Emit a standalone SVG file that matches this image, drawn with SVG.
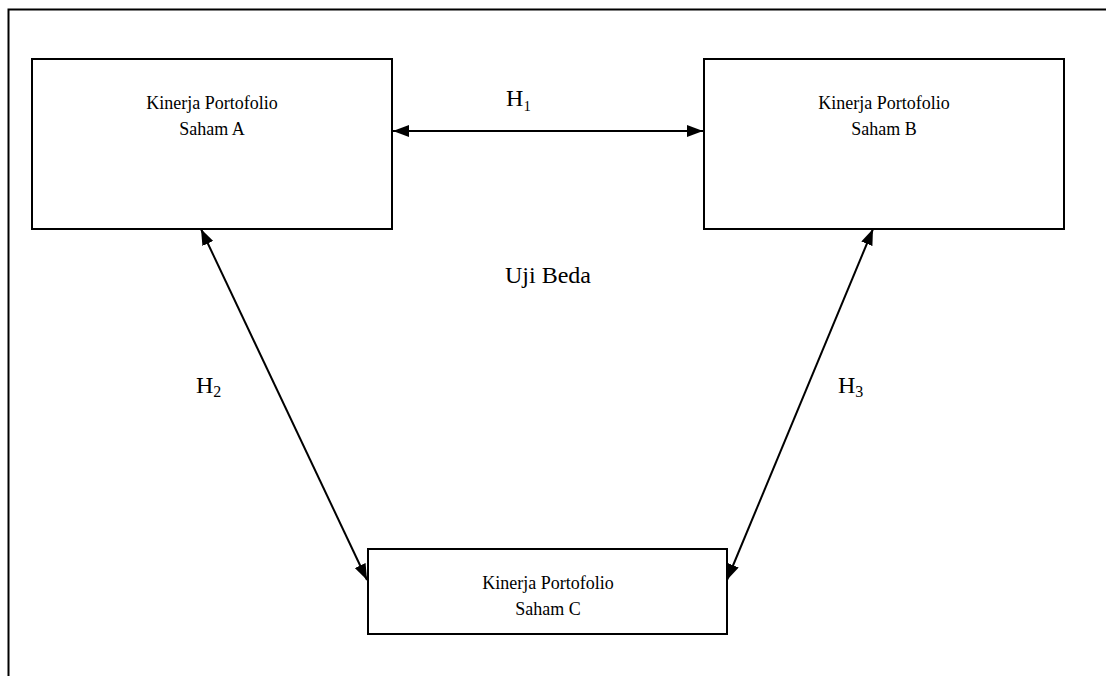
<svg xmlns="http://www.w3.org/2000/svg" width="1106" height="676" viewBox="0 0 1106 676">
<defs>
<marker id="ah" viewBox="0 0 16 12" refX="16" refY="6" markerWidth="16" markerHeight="12" markerUnits="userSpaceOnUse" orient="auto-start-reverse">
<path d="M0,0 L16,6 L0,12 Z" fill="#000"/>
</marker>
<style>
.box{fill:#fff;stroke:#000;stroke-width:2}
.lbl{font-family:"Liberation Serif","Times New Roman",serif;font-size:18px;fill:#000;text-anchor:middle}
.big{font-family:"Liberation Serif","Times New Roman",serif;font-size:24px;fill:#000}
.con{stroke:#000;stroke-width:2;fill:none;marker-start:url(#ah);marker-end:url(#ah)}
</style>
</defs>
<rect width="1106" height="676" fill="#fff"/>
<path d="M8.5,676 V9.5 H1106" fill="none" stroke="#000" stroke-width="2"/>
<g id="connectors">
<line class="con" x1="393" y1="131" x2="703" y2="131"/>
<line class="con" x1="201" y1="229" x2="367" y2="580"/>
<line class="con" x1="873" y1="229" x2="727" y2="580"/>
</g>
<g id="nodeA">
<rect class="box" x="32" y="59" width="360" height="170"/>
<text class="lbl" x="212" y="109">Kinerja Portofolio</text>
<text class="lbl" x="212" y="135">Saham A</text>
</g>
<g id="nodeB">
<rect class="box" x="704" y="59" width="360" height="170"/>
<text class="lbl" x="884" y="109">Kinerja Portofolio</text>
<text class="lbl" x="884" y="135">Saham B</text>
</g>
<g id="nodeC">
<rect class="box" x="368" y="549" width="359" height="85"/>
<text class="lbl" x="548" y="589">Kinerja Portofolio</text>
<text class="lbl" x="548" y="615">Saham C</text>
</g>
<g id="labels">
<text class="big" x="506" y="106">H₁</text>
<text class="big" x="505" y="283">Uji Beda</text>
<text class="big" x="196" y="393">H<tspan font-size="16" dy="4">2</tspan></text>
<text class="big" x="838" y="393">H<tspan font-size="16" dy="4">3</tspan></text>
</g>
</svg>
